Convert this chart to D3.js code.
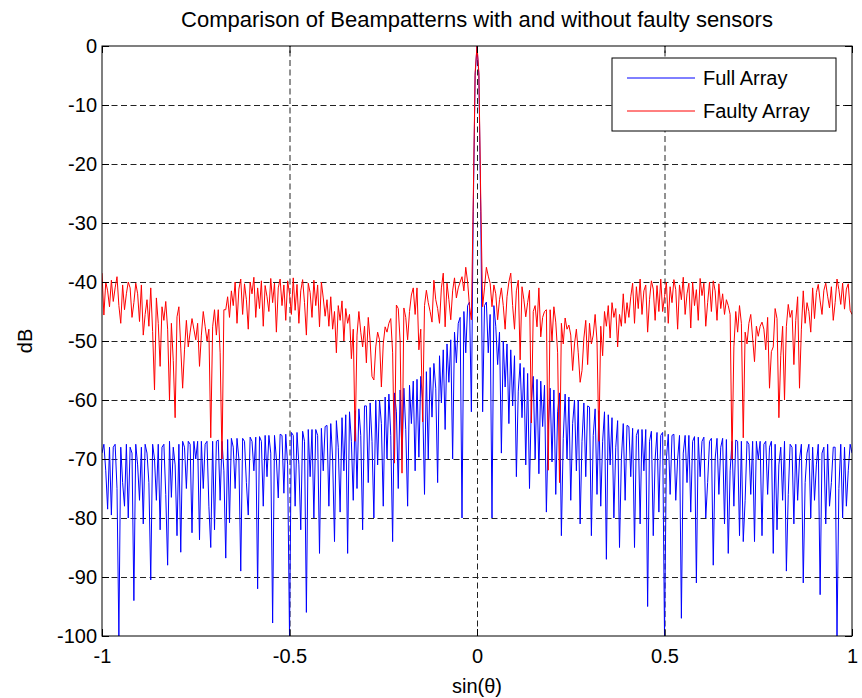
<!DOCTYPE html>
<html>
<head>
<meta charset="utf-8">
<script src="https://cdn.jsdelivr.net/npm/d3@7"></script>
<style>
  html, body { margin:0; padding:0; background:#fff; }
  svg { display:block; font-family: "Liberation Sans", Arial, Helvetica, sans-serif; }
  .axis text { font-size:20px; fill:#000; }
  .axis line { stroke:#000; }
  .grid line { stroke:#222; stroke-dasharray:6,3.5; }
</style>
</head>
<body>
<svg id="chart" width="862" height="698"></svg>
<script>
// --- data: beampattern levels in dB, sin(theta) grid from -1 to 1 ---
const uStart = -1, uStep = 0.005;

const fullArrayDb = [
  -69, -67.5, -72, -78.5, -68, -79.5, -68, -67.5, -75, -100,
  -68, -74, -78, -67.5, -80, -68, -69, -94, -67.5, -71,
  -77, -68, -81, -67.5, -69, -74, -90.5, -67.5, -70, -77,
  -67.5, -82, -68, -67.5, -76, -88, -67, -76.5, -68, -71,
  -83, -67.5, -85.8, -67, -68, -75, -67, -67.5, -82.5, -67,
  -70, -67, -83.7, -67, -75, -67.5, -67, -78, -85, -67,
  -82, -67, -66.8, -77, -67, -72, -86.8, -66.7, -80.8, -66.5,
  -68, -75, -66.5, -70, -89, -66.5, -67, -74, -79.5, -66.3,
  -67, -72, -66.3, -92, -66.2, -67, -78, -66, -73, -66,
  -69, -97.8, -66, -70, -76.6, -65.8, -66, -75.8, -65.8, -71,
  -100, -65.5, -66, -78, -65.5, -71, -82, -65.3, -67, -96,
  -65, -73, -65, -80, -65, -66, -86, -64.8, -72, -64.5,
  -64.3, -78, -64, -70, -84, -63.5, -68, -79, -63, -72,
  -62.5, -86, -62, -67, -77, -61.8, -75, -61.5, -66, -82,
  -61, -61, -74, -60.5, -67, -80, -60, -71, -60, -64,
  -78, -59.5, -70, -59, -66, -84, -58.8, -62, -75, -58.3,
  -70, -58, -65, -78, -57.5, -64, -56.8, -72, -56.5, -69.7,
  -56, -60, -76, -55.2, -70, -54.5, -62.9, -53.8, -58, -74,
  -52.5, -60.5, -51.5, -65, -50.5, -57, -49.8, -70, -48.5, -53.7,
  -47, -46, -80, -45, -52, -44, -43.4, -62, -28, -5,
  0,
  -5, -28, -62, -44, -43.4, -52, -45.5, -80, -44, -47.5,
  -54, -48.5, -69, -50, -57.8, -50.5, -64, -51.5, -61, -52.5,
  -73, -58.5, -53.8, -63, -54.5, -71, -55.5, -75, -60, -56,
  -70, -56.5, -72.5, -56.8, -64.5, -57.5, -79, -65, -58, -70.5,
  -58.3, -76, -62, -58.8, -83, -66.5, -59, -70, -59.5, -77,
  -64, -60, -72, -60, -81, -67, -60.5, -73, -61, -61.2,
  -83, -66, -61.5, -76, -61.8, -78, -67, -62, -87, -62.5,
  -71, -63, -80, -68, -63.5, -85, -70, -64, -77, -64.3,
  -64.5, -73, -64.8, -85, -66, -65, -81, -65, -72, -65,
  -95, -67, -65.3, -83, -70, -65.5, -79, -66, -65.5, -100,
  -70, -65.8, -76, -66, -65.8, -77, -70, -66, -97, -69,
  -66, -74, -66, -79, -67, -66.2, -91, -66.3, -73, -67,
  -66.3, -80, -74, -67, -66.5, -88, -70, -66.5, -76, -68,
  -66.5, -81, -66.7, -86, -72, -67, -78, -66.8, -67, -83,
  -67, -84, -77, -67, -67.5, -76, -67, -84, -67, -70,
  -67, -83, -67.5, -67, -76, -68, -67, -86, -67.5, -82,
  -71, -68, -77, -67, -89, -76, -67.5, -68, -81, -67.5,
  -77, -70, -67.5, -91, -74, -69, -67.5, -80, -68, -77,
  -71, -67.5, -93, -69, -68, -81, -67.5, -78, -74, -68,
  -68, -100, -75, -67.5, -80, -68, -78, -72, -67.5, -69
];

const faultyArrayDb = [
  -38.5, -45.6, -40, -41.5, -44.2, -39.7, -43.3, -41, -39.1, -44,
  -47, -40.5, -44.7, -42, -40, -41, -46, -43.5, -40.2, -42,
  -46.7, -40.5, -49, -45.5, -43, -47.5, -41, -48.4, -58.3, -42.7,
  -47, -54.3, -44.2, -46.5, -43.3, -48, -60, -47, -53.3, -63,
  -45.9, -44.2, -51.2, -58, -51.5, -46.5, -51, -48.5, -46.2, -48,
  -49.8, -47, -54.3, -49, -45, -47.5, -50, -48, -66.4, -47.6,
  -44.7, -49, -44.7, -52, -70, -44.7, -44.7, -42.5, -46, -41.5,
  -44, -40, -47, -41.2, -39.5, -45.5, -40.3, -43, -48, -40,
  -42, -39.2, -46, -41, -44.5, -39.8, -47.5, -40.6, -42.5, -45,
  -39.4, -43.5, -40.2, -48.5, -41, -39.5, -44, -40.5, -46.5, -39.8,
  -42, -45.5, -39.3, -44.8, -40.4, -47, -41.5, -39.6, -43.5, -49,
  -40.2, -41.8, -46, -39.7, -44, -40.5, -47.6, -40, -42.7, -45.8,
  -43, -47.5, -42.5, -48, -45, -52, -44, -46.5, -43.2, -50,
  -44.5, -47, -45.5, -53, -48, -67, -49, -45, -48.5, -51,
  -47.5, -53.7, -46, -50, -56, -56.6, -51, -48.5, -49.8, -57.8,
  -50.5, -47.6, -48.5, -47, -46.2, -52, -70.7, -43.9, -44.5, -50,
  -72.4, -44.4, -46, -49.8, -45, -42.2, -41, -45.5, -41, -51.5,
  -48, -63.7, -44, -41.4, -43.5, -45, -46.8, -39.7, -43, -44.5,
  -47, -41, -38.5, -47.6, -40.2, -43, -46.4, -41.5, -39.3, -42.7,
  -41, -40, -39.1, -41.5, -37.5, -40, -44.2, -46.4, -26, -4.5,
  0,
  -4.5, -26, -44.2, -41, -37.5, -39, -40.2, -44.2, -40.5, -42,
  -46.4, -43, -41, -44, -48, -42.5, -40, -38.5, -44, -48,
  -41.5, -39.7, -53.2, -40.8, -43, -45.9, -43.5, -41.4, -63.9, -45,
  -44, -47.6, -41, -49.3, -46, -45, -44.7, -71.9, -44.7, -50,
  -44.2, -46.8, -52, -74, -47, -50.5, -46.1, -48, -47.3, -49,
  -55, -50.5, -48, -52, -57, -55, -49.5, -46.5, -54, -47,
  -50.5, -49, -45.5, -50, -67, -47.5, -52.5, -45, -47.5, -44,
  -49.5, -43.5, -46, -44.5, -51, -45.5, -47.5, -42, -47, -43.5,
  -46, -42.5, -40.2, -47, -40.8, -44.5, -39.5, -45.5, -41.5, -40.5,
  -48.5, -43, -39.8, -41.2, -46.5, -40.6, -45, -39.5, -45, -42.5,
  -40, -47, -40.8, -43.5, -39.6, -41.3, -48, -40.5, -43, -39.2,
  -45.5, -42, -40.2, -47.8, -40, -44, -41.3, -46.5, -39.4, -42.3,
  -40.2, -47.5, -43.5, -40, -45, -39.8, -41.5, -46.5, -40.3, -44.5,
  -42, -45.5, -43, -44, -45.5, -70, -51, -45, -48.5, -44,
  -47, -66.4, -48.5, -50.5, -47, -45.5, -49.5, -53.5, -47.5, -49.2,
  -47.5, -46.8, -48, -51.5, -46, -58, -51.8, -51, -44.5, -46.2,
  -63, -52.5, -47.5, -60, -47.5, -43.8, -46, -44.8, -54, -46.5,
  -42.5, -58, -48, -41.5, -47, -43.5, -45, -48.5, -41, -46.2,
  -41.8, -40.4, -43.2, -45.5, -41.4, -40.2, -42.4, -44.4, -40.8, -46.5,
  -43.5, -39.5, -41.3, -43.8, -40.2, -44.6, -41.2, -40.3, -44.8, -45.5
];

const xTicks = [-1, -0.5, 0, 0.5, 1];
const yTicks = [0, -10, -20, -30, -40, -50, -60, -70, -80, -90, -100];
const seriesNames = ['Full Array', 'Faulty Array'];
const seriesColors = ['#0000ff', '#ff0000'];
const titleText = 'Comparison of Beampatterns with and without faulty sensors';

if (fullArrayDb.length !== faultyArrayDb.length) console.warn('length mismatch', fullArrayDb.length, faultyArrayDb.length);
const sinTheta = fullArrayDb.map((_, i) => uStart + i * uStep);

// --- layout ---
const W = 862, H = 698;
const m = { left: 102, top: 46, right: 10, bottom: 62 };
const iw = W - m.left - m.right, ih = H - m.top - m.bottom;

const svg = d3.select('#chart');
svg.append('rect').attr('width', W).attr('height', H).attr('fill', '#fff');

const x = d3.scaleLinear().domain([-1, 1]).range([0, iw]);
const y = d3.scaleLinear().domain([-100, 0]).range([ih, 0]);

const g = svg.append('g').attr('transform', `translate(${m.left},${m.top})`);

svg.append('defs').append('clipPath').attr('id', 'plot-clip')
  .append('rect').attr('width', iw).attr('height', ih);

// --- grid (dashed, inner ticks only) ---
g.append('g').attr('class', 'grid')
  .attr('transform', `translate(0,${ih})`)
  .call(d3.axisBottom(x).tickValues(xTicks.slice(1, -1)).tickSize(-ih).tickFormat(''))
  .call(s => s.select('.domain').remove());
g.append('g').attr('class', 'grid')
  .call(d3.axisLeft(y).tickValues(yTicks.slice(1, -1)).tickSize(-iw).tickFormat(''))
  .call(s => s.select('.domain').remove());

// --- lines ---
const lineGen = d3.line()
  .x((d, i) => x(sinTheta[i]))
  .y(d => y(d));

const plot = g.append('g').attr('clip-path', 'url(#plot-clip)');
[fullArrayDb, faultyArrayDb].forEach((vals, k) => {
  plot.append('path')
    .datum(vals)
    .attr('fill', 'none')
    .attr('stroke', seriesColors[k])
    .attr('stroke-width', 1)
    .attr('stroke-linejoin', 'round')
    .attr('d', lineGen);
});

// --- axes (inward ticks on all four sides, matlab style) ---
const tk = 7;
g.append('g').attr('class', 'axis')
  .attr('transform', `translate(0,${ih})`)
  .call(d3.axisBottom(x).tickValues(xTicks).tickSize(-tk).tickPadding(13).tickFormat(d => String(d)))
  .call(s => s.select('.domain').remove());
g.append('g').attr('class', 'axis')
  .call(d3.axisTop(x).tickValues(xTicks).tickSize(-tk).tickFormat(''))
  .call(s => s.select('.domain').remove());
g.append('g').attr('class', 'axis')
  .call(d3.axisLeft(y).tickValues(yTicks).tickSize(-tk).tickPadding(5).tickFormat(d => String(d)))
  .call(s => s.select('.domain').remove());
g.append('g').attr('class', 'axis')
  .attr('transform', `translate(${iw},0)`)
  .call(d3.axisRight(y).tickValues(yTicks).tickSize(-tk).tickFormat(''))
  .call(s => s.select('.domain').remove());

g.append('rect')
  .attr('width', iw).attr('height', ih)
  .attr('fill', 'none').attr('stroke', '#000').attr('stroke-width', 1);

// --- labels ---
svg.append('text')
  .attr('x', m.left + iw / 2).attr('y', 27)
  .attr('text-anchor', 'middle').attr('font-size', 22)
  .text(titleText);

svg.append('text')
  .attr('x', m.left + iw / 2).attr('y', 693)
  .attr('text-anchor', 'middle').attr('font-size', 20)
  .text('sin(θ)');

svg.append('text')
  .attr('transform', `translate(32,${m.top + ih / 2}) rotate(-90)`)
  .attr('text-anchor', 'middle').attr('font-size', 20)
  .text('dB');

// --- legend ---
const lg = svg.append('g').attr('transform', 'translate(612,58)');
lg.append('rect').attr('width', 224).attr('height', 73)
  .attr('fill', '#fff').attr('stroke', '#000').attr('stroke-width', 1);
seriesNames.forEach((name, k) => {
  const yy = 20 + k * 33;
  lg.append('line').attr('x1', 15).attr('x2', 83).attr('y1', yy).attr('y2', yy)
    .attr('stroke', seriesColors[k]).attr('stroke-width', 1);
  lg.append('text').attr('x', 91).attr('y', yy + 7)
    .attr('font-size', 20).text(name);
});
</script>
</body>
</html>
